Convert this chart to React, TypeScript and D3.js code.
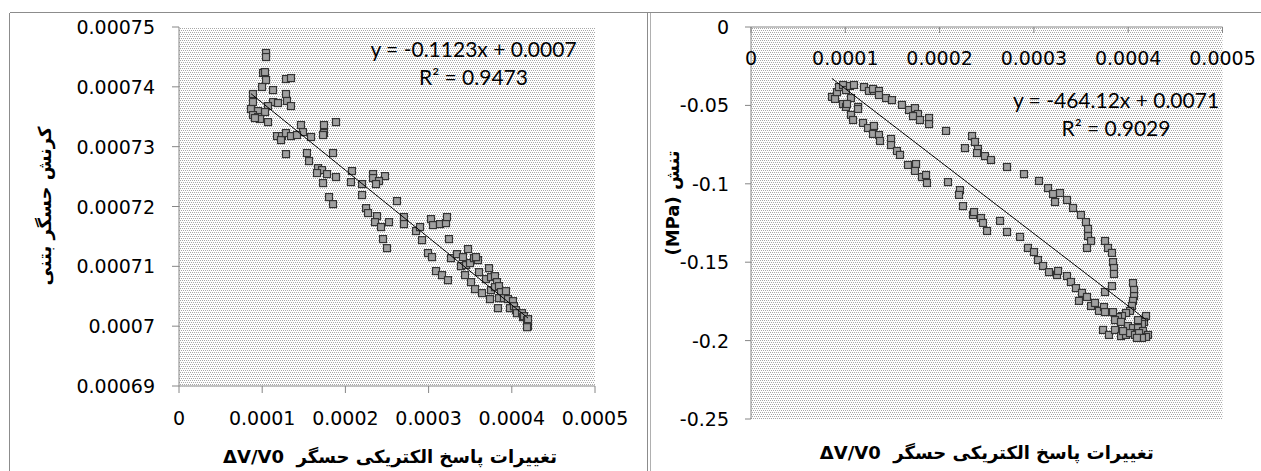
import * as d3 from "d3";

// کرنش حسگر بتنی vs ΔV/V0
const strainPoints: [number, number][] = [
  [1.046e-4, 7.4565e-4], [1.046e-4, 7.4498e-4], [1.01e-4, 7.4231e-4], [1.034e-4, 7.4247e-4],
  [1.046e-4, 7.4114e-4], [0.998e-4, 7.3997e-4], [1.13e-4, 7.3946e-4], [1.286e-4, 7.413e-4],
  [1.346e-4, 7.4147e-4], [1.286e-4, 7.388e-4], [0.889e-4, 7.388e-4], [0.889e-4, 7.3746e-4],
  [1.13e-4, 7.3746e-4], [1.19e-4, 7.3729e-4], [1.298e-4, 7.3763e-4], [1.346e-4, 7.3679e-4],
  [1.07e-4, 7.3679e-4], [0.865e-4, 7.3629e-4], [0.95e-4, 7.3595e-4], [1.034e-4, 7.3579e-4],
  [0.889e-4, 7.3528e-4], [0.95e-4, 7.3495e-4], [0.974e-4, 7.3462e-4], [0.913e-4, 7.3478e-4],
  [1.07e-4, 7.3411e-4], [1.466e-4, 7.3361e-4], [1.743e-4, 7.3361e-4], [1.887e-4, 7.3411e-4],
  [1.49e-4, 7.3244e-4], [1.743e-4, 7.3227e-4], [1.731e-4, 7.3194e-4], [1.178e-4, 7.3177e-4],
  [1.238e-4, 7.3177e-4], [1.226e-4, 7.311e-4], [1.286e-4, 7.3227e-4], [1.346e-4, 7.3177e-4],
  [1.418e-4, 7.3194e-4], [1.587e-4, 7.3161e-4], [1.286e-4, 7.2876e-4], [1.538e-4, 7.2893e-4],
  [1.563e-4, 7.2759e-4], [1.851e-4, 7.2893e-4], [1.671e-4, 7.2642e-4], [1.719e-4, 7.2609e-4],
  [1.659e-4, 7.2559e-4], [1.779e-4, 7.2542e-4], [1.887e-4, 7.2492e-4], [2.079e-4, 7.2592e-4],
  [1.731e-4, 7.2391e-4], [2.067e-4, 7.2408e-4], [2.2e-4, 7.2375e-4], [2.332e-4, 7.2542e-4],
  [2.332e-4, 7.2475e-4], [2.476e-4, 7.2508e-4], [2.404e-4, 7.2425e-4], [2.368e-4, 7.2375e-4],
  [2.2e-4, 7.2191e-4], [1.803e-4, 7.2157e-4], [1.851e-4, 7.204e-4], [2.62e-4, 7.209e-4],
  [2.248e-4, 7.1973e-4], [2.272e-4, 7.189e-4], [2.38e-4, 7.1839e-4], [2.356e-4, 7.1739e-4],
  [2.428e-4, 7.1656e-4], [2.524e-4, 7.1739e-4], [2.704e-4, 7.1823e-4], [2.704e-4, 7.1706e-4],
  [2.849e-4, 7.1589e-4], [2.897e-4, 7.1656e-4], [3.029e-4, 7.1789e-4], [3.053e-4, 7.1689e-4],
  [3.137e-4, 7.1706e-4], [3.209e-4, 7.1722e-4], [3.221e-4, 7.1823e-4], [2.452e-4, 7.1455e-4],
  [2.5e-4, 7.1304e-4], [2.921e-4, 7.1438e-4], [3.245e-4, 7.1455e-4], [2.993e-4, 7.1221e-4],
  [3.041e-4, 7.1154e-4], [3.089e-4, 7.092e-4], [3.161e-4, 7.0853e-4], [3.233e-4, 7.0769e-4],
  [3.269e-4, 7.1137e-4], [3.341e-4, 7.1204e-4], [3.413e-4, 7.1154e-4], [3.474e-4, 7.1288e-4],
  [3.389e-4, 7.1003e-4], [3.45e-4, 7.102e-4], [3.498e-4, 7.1054e-4], [3.546e-4, 7.1137e-4],
  [3.594e-4, 7.1104e-4], [3.57e-4, 7.1154e-4], [3.438e-4, 7.0853e-4], [3.51e-4, 7.0736e-4],
  [3.606e-4, 7.0903e-4], [3.558e-4, 7.0619e-4], [3.642e-4, 7.0552e-4], [3.726e-4, 7.097e-4],
  [3.69e-4, 7.0786e-4], [3.75e-4, 7.0819e-4], [3.798e-4, 7.0836e-4], [3.822e-4, 7.0736e-4],
  [3.75e-4, 7.0602e-4], [3.798e-4, 7.0652e-4], [3.846e-4, 7.0669e-4], [3.87e-4, 7.0569e-4],
  [3.93e-4, 7.0585e-4], [3.738e-4, 7.0452e-4], [3.846e-4, 7.0468e-4], [3.906e-4, 7.0468e-4],
  [3.954e-4, 7.0452e-4], [4.014e-4, 7.0418e-4], [3.834e-4, 7.0301e-4], [3.978e-4, 7.0301e-4],
  [4.026e-4, 7.0334e-4], [4.05e-4, 7.0268e-4], [4.062e-4, 7.0217e-4], [4.123e-4, 7.0217e-4],
  [4.135e-4, 7.0151e-4], [4.147e-4, 7.0167e-4], [4.183e-4, 7.01e-4], [4.195e-4, 7.0117e-4],
  [4.195e-4, 7.0e-4], [4.183e-4, 6.9983e-4],
];

// تنش (MPa) vs ΔV/V0
const stressPoints: [number, number][] = [
  [0.859e-4, -0.0446], [0.891e-4, -0.0459], [0.912e-4, -0.0415], [0.933e-4, -0.0383],
  [0.976e-4, -0.037], [1.007e-4, -0.0402], [1.05e-4, -0.0376], [1.092e-4, -0.037],
  [1.06e-4, -0.0453], [0.976e-4, -0.0491], [1.007e-4, -0.051], [1.018e-4, -0.0491],
  [1.135e-4, -0.051], [1.135e-4, -0.0523], [1.06e-4, -0.0561], [1.082e-4, -0.0593],
  [1.198e-4, -0.0383], [1.251e-4, -0.0408], [1.304e-4, -0.0408], [1.294e-4, -0.0395],
  [1.357e-4, -0.0408], [1.357e-4, -0.0434], [1.432e-4, -0.0453], [1.495e-4, -0.0466],
  [1.601e-4, -0.0497], [1.676e-4, -0.0529], [1.739e-4, -0.0517], [1.771e-4, -0.0555],
  [1.718e-4, -0.0568], [1.792e-4, -0.0593], [1.888e-4, -0.058], [1.888e-4, -0.0619],
  [2.068e-4, -0.0663], [2.269e-4, -0.0772], [2.344e-4, -0.0695], [2.375e-4, -0.0733],
  [2.407e-4, -0.0778], [2.397e-4, -0.0804], [2.481e-4, -0.0823], [2.545e-4, -0.0848],
  [2.715e-4, -0.0893], [2.895e-4, -0.0938], [3.054e-4, -0.0982], [3.15e-4, -0.1027],
  [3.203e-4, -0.1065], [3.277e-4, -0.1059], [3.224e-4, -0.1116], [3.351e-4, -0.1103],
  [3.415e-4, -0.1154], [3.499e-4, -0.1199], [3.552e-4, -0.1244], [3.574e-4, -0.1288],
  [3.574e-4, -0.1333], [3.606e-4, -0.1365], [3.563e-4, -0.1409], [3.754e-4, -0.1365],
  [3.786e-4, -0.1409], [3.828e-4, -0.1441], [3.839e-4, -0.1499], [3.849e-4, -0.1537],
  [3.849e-4, -0.1575], [3.828e-4, -0.1652], [3.754e-4, -0.169], [4.051e-4, -0.1633],
  [4.062e-4, -0.1677], [4.062e-4, -0.1716], [4.051e-4, -0.1747], [4.04e-4, -0.1779],
  [4.019e-4, -0.1811], [3.977e-4, -0.1824], [3.934e-4, -0.1843], [3.892e-4, -0.185],
  [3.839e-4, -0.1818], [3.86e-4, -0.1869], [3.924e-4, -0.1881],
  [1.188e-4, -0.0612], [1.241e-4, -0.0644], [1.304e-4, -0.0631], [1.294e-4, -0.0682],
  [1.357e-4, -0.0689], [1.368e-4, -0.0727], [1.485e-4, -0.0714], [1.485e-4, -0.0753],
  [1.548e-4, -0.0791], [1.58e-4, -0.0816], [1.665e-4, -0.088], [1.75e-4, -0.0874],
  [1.739e-4, -0.0918], [1.813e-4, -0.0957], [1.856e-4, -0.0944], [1.866e-4, -0.0995],
  [2.089e-4, -0.0989], [2.216e-4, -0.104], [2.206e-4, -0.1071], [2.248e-4, -0.1142],
  [2.354e-4, -0.1199], [2.365e-4, -0.118], [2.439e-4, -0.1218], [2.46e-4, -0.125],
  [2.503e-4, -0.1301], [2.641e-4, -0.1237], [2.715e-4, -0.1307], [2.853e-4, -0.1339],
  [2.937e-4, -0.1409], [3.001e-4, -0.1435], [3.043e-4, -0.1486], [3.097e-4, -0.1524],
  [3.16e-4, -0.1563], [3.245e-4, -0.1582], [3.256e-4, -0.1556], [3.351e-4, -0.1588],
  [3.393e-4, -0.1626], [3.446e-4, -0.1665], [3.51e-4, -0.1696], [3.563e-4, -0.1722],
  [3.478e-4, -0.1747], [3.606e-4, -0.1779], [3.648e-4, -0.176], [3.69e-4, -0.1811],
  [3.743e-4, -0.1786], [3.754e-4, -0.1818],
  [4.189e-4, -0.1843], [4.168e-4, -0.1881], [4.146e-4, -0.1894], [4.104e-4, -0.1869],
  [3.998e-4, -0.1907], [4.051e-4, -0.192], [4.104e-4, -0.192], [4.157e-4, -0.1939],
  [4.21e-4, -0.1964], [4.189e-4, -0.1977], [3.733e-4, -0.1932], [3.796e-4, -0.1964],
  [3.86e-4, -0.1932], [3.924e-4, -0.1971], [3.977e-4, -0.1964], [4.019e-4, -0.1952],
  [4.072e-4, -0.1964], [4.115e-4, -0.1952], [4.146e-4, -0.1983], [4.093e-4, -0.1983],
  [3.945e-4, -0.1939],
];

const xTicks = [0, 0.0001, 0.0002, 0.0003, 0.0004, 0.0005];
const strainTicks = [0.00069, 0.0007, 0.00071, 0.00072, 0.00073, 0.00074, 0.00075];
const stressTicks = [0, -0.05, -0.1, -0.15, -0.2, -0.25];

const xTitle = "تغییرات پاسخ الکتریکی حسگر  ΔV/V0";
const strainTitle = "کرنش حسگر بتنی";
const stressTitle = "(MPa) تنش";
const strainEquation = ["y = -0.1123x + 0.0007", "R² = 0.9473"];
const stressEquation = ["y = -464.12x + 0.0071", "R² = 0.9029"];

const tickFont = "'DejaVu Sans', sans-serif";
const eqFont = "Lato, 'Open Sans', sans-serif";
const axisColor = "#868686";

function fit(points: [number, number][]) {
  const mx = d3.mean(points, (d) => d[0])!;
  const my = d3.mean(points, (d) => d[1])!;
  const sxy = d3.sum(points, (d) => (d[0] - mx) * (d[1] - my));
  const sxx = d3.sum(points, (d) => (d[0] - mx) ** 2);
  const slope = sxy / sxx;
  return { slope, intercept: my - slope * mx };
}

const fmt = (v: number) => String(+v.toFixed(6));

function Markers({ points, x, y }) {
  return (
    <g>
      {points.map((d, i) => (
        <rect
          key={i}
          x={x(d[0]) - 3.5}
          y={y(d[1]) - 3.5}
          width={7}
          height={7}
          fill="#a0a0a0"
          stroke="#333"
          strokeWidth={1.2}
        />
      ))}
    </g>
  );
}

function Trend({ points, x, y }) {
  const { slope, intercept } = fit(points);
  const [x0, x1] = d3.extent(points, (d) => d[0]) as [number, number];
  const line = d3.line<number>().x((v) => x(v)).y((v) => y(slope * v + intercept));
  return <path d={line([x0, x1])!} fill="none" stroke="#000" strokeWidth={1} />;
}

function StrainPanel() {
  const x = d3.scaleLinear().domain([0, 0.0005]).range([179, 595]);
  const y = d3.scaleLinear().domain([0.00069, 0.00075]).range([386, 27]);
  const [r0, r1] = x.range();
  const [b, t] = y.range();
  return (
    <g>
      <rect x={r0} y={t} width={r1 - r0} height={b - t} fill="url(#dots)" />
      <line x1={r0} x2={r0} y1={t} y2={b} stroke={axisColor} />
      <line x1={r0} x2={r1} y1={b} y2={b} stroke={axisColor} />
      {strainTicks.map((v) => (
        <g key={v}>
          <line x1={r0 - 7} x2={r0} y1={y(v)} y2={y(v)} stroke={axisColor} />
          <text x={155} y={y(v)} textAnchor="end" dominantBaseline="central" fontFamily={tickFont} fontSize={19}>
            {fmt(v)}
          </text>
        </g>
      ))}
      {xTicks.map((v) => (
        <g key={v}>
          <line x1={x(v)} x2={x(v)} y1={b} y2={b + 7} stroke={axisColor} />
          <text x={x(v)} y={418} textAnchor="middle" dominantBaseline="central" fontFamily={tickFont} fontSize={19}>
            {fmt(v)}
          </text>
        </g>
      ))}
      <Markers points={strainPoints} x={x} y={y} />
      <Trend points={strainPoints} x={x} y={y} />
      {strainEquation.map((s, i) => (
        <text key={s} x={473.5} y={48 + i * 28} textAnchor="middle" dominantBaseline="central" fontFamily={eqFont} fontSize={21}>
          {s}
        </text>
      ))}
      <text x={(r0 + r1) / 2 + 3} y={456} textAnchor="middle" dominantBaseline="central" fontFamily={tickFont} fontSize={18} fontWeight="bold" style={{ direction: "rtl", whiteSpace: "pre" }}>
        {xTitle}
      </text>
      <text transform="translate(44,206) rotate(-90)" textAnchor="middle" dominantBaseline="central" fontFamily={tickFont} fontSize={18} fontWeight="bold" style={{ direction: "rtl" }}>
        {strainTitle}
      </text>
    </g>
  );
}

function StressPanel() {
  const x = d3.scaleLinear().domain([0, 0.0005]).range([751, 1222.5]);
  const y = d3.scaleLinear().domain([-0.25, 0]).range([419, 27]);
  const [r0, r1] = x.range();
  const [b, t] = y.range();
  return (
    <g>
      <rect x={r0} y={t} width={r1 - r0} height={b - t} fill="url(#dots)" />
      <line x1={r0} x2={r0} y1={t} y2={b} stroke={axisColor} />
      <line x1={r0} x2={r1} y1={t} y2={t} stroke={axisColor} />
      {stressTicks.map((v) => (
        <g key={v}>
          <line x1={r0 - 6} x2={r0} y1={y(v)} y2={y(v)} stroke={axisColor} />
          <text x={729} y={y(v)} textAnchor="end" dominantBaseline="central" fontFamily={tickFont} fontSize={19}>
            {fmt(v)}
          </text>
        </g>
      ))}
      {xTicks.map((v) => (
        <g key={v}>
          <line x1={x(v)} x2={x(v)} y1={t} y2={t + 6} stroke={axisColor} />
          <text x={x(v)} y={58} textAnchor="middle" dominantBaseline="central" fontFamily={tickFont} fontSize={19}>
            {fmt(v)}
          </text>
        </g>
      ))}
      <Markers points={stressPoints} x={x} y={y} />
      <Trend points={stressPoints} x={x} y={y} />
      {stressEquation.map((s, i) => (
        <text key={s} x={1116} y={99 + i * 28} textAnchor="middle" dominantBaseline="central" fontFamily={eqFont} fontSize={21}>
          {s}
        </text>
      ))}
      <text x={(r0 + r1) / 2} y={452} textAnchor="middle" dominantBaseline="central" fontFamily={tickFont} fontSize={18} fontWeight="bold" style={{ direction: "rtl", whiteSpace: "pre" }}>
        {xTitle}
      </text>
      <text transform="translate(672,203) rotate(-90)" textAnchor="middle" dominantBaseline="central" fontFamily={tickFont} fontSize={18} fontWeight="bold">
        {stressTitle}
      </text>
    </g>
  );
}

export default function App() {
  return (
    <svg
      width={1261}
      height={471}
      viewBox="0 0 1261 471"
      style={{ position: "absolute", left: 0, top: 0, background: "#fff" }}
    >
      <defs>
        <pattern id="dots" width={4} height={4} patternUnits="userSpaceOnUse">
          <rect width={4} height={4} fill="#fff" />
          <rect x={0} y={0} width={1} height={1} fill="#a8a8a8" />
          <rect x={2} y={0} width={1} height={1} fill="#a8a8a8" />
          <rect x={1} y={2} width={1} height={1} fill="#a8a8a8" />
          <rect x={3} y={2} width={1} height={1} fill="#a8a8a8" />
        </pattern>
      </defs>
      <g stroke="#8c8c8c" shapeRendering="crispEdges">
        <line x1={9.5} x2={1261} y1={12.5} y2={12.5} />
        <line x1={9.5} x2={9.5} y1={12.5} y2={471} />
        <line x1={647.5} x2={647.5} y1={12.5} y2={471} />
        <line x1={650.5} x2={650.5} y1={12.5} y2={471} stroke="#b0b0b0" />
      </g>
      <StrainPanel />
      <StressPanel />
    </svg>
  );
}
